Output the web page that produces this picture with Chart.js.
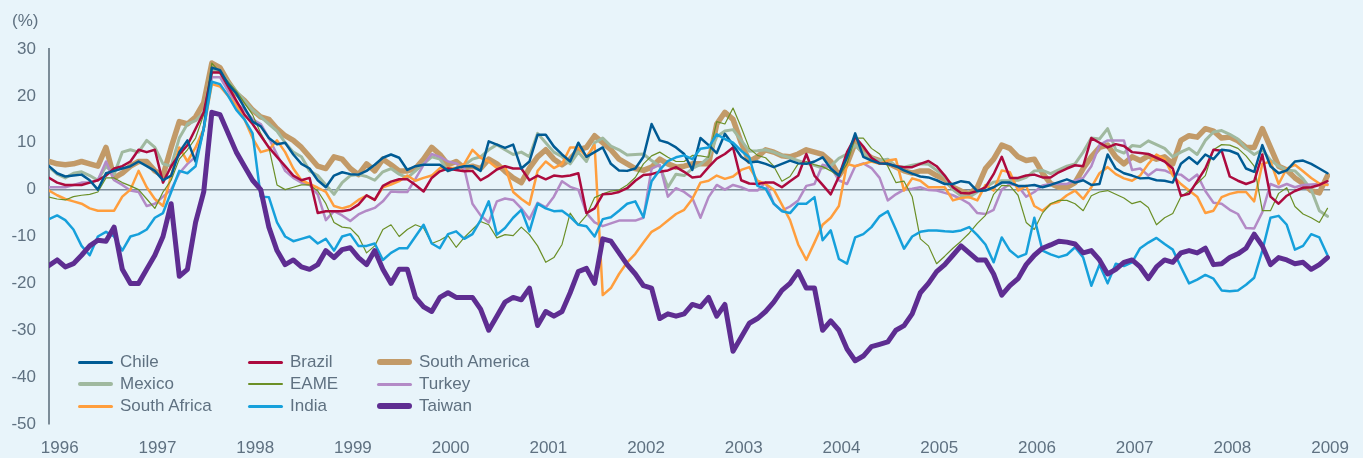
<!DOCTYPE html>
<html>
<head>
<meta charset="utf-8">
<title>Relative performance 1996-2009</title>
<script src="https://cdn.jsdelivr.net/npm/chart.js@4.4.1/dist/chart.umd.min.js"></script>
<style>
  html, body { margin: 0; padding: 0; background: #e8f4fa; }
  #wrap { position: relative; width: 1363px; height: 458px; font-family: 'Liberation Sans', Arial, sans-serif; color: #5f7181; }
  #unit { position: absolute; left: 12px; top: 11px; font-size: 17px; }
  #legend { position: absolute; left: 78px; top: 351px; display: grid; grid-template-columns: 170px 129px 180px; }
  .item { display: flex; align-items: center; height: 22px; font-size: 17px; white-space: nowrap; }
  .swatch { width: 35px; margin-right: 7px; border-radius: 3px; }
</style>
</head>
<body>
<div id="wrap">
  <canvas id="chart" width="1363" height="458"></canvas>
  <div id="unit">(%)</div>
  <div id="legend"></div>
</div>
<script>
// ── Monthly points, late 1995 to end 2008 ──
const START = 1995.89;
const YEARS = [1996, 1997, 1998, 1999, 2000, 2001, 2002, 2003, 2004, 2005, 2006, 2007, 2008, 2009];
const Y_TICKS = [-50, -40, -30, -20, -10, 0, 10, 20, 30];

const CHILE = [
  5, 3.5, 2.8, 3, 3.2, 2, 0, 3.5, 4, 4.5, 5, 6, 5, 4, 2, 3, 8, 10.5, 6, 13, 26, 25.5, 22.5, 20.5, 17.5, 14.5, 13.5, 11, 9.7, 10, 7.5, 5.5, 4.5,
  2, 0.5, 3, 3.7, 3.3, 3.2, 4, 5.3, 6.8, 7.5, 6.8, 4.2, 5, 5.3, 5.3, 5.3, 4, 4.6, 5, 5, 4, 10.3, 9.6, 8.9, 9.6, 4.5, 6, 11.7, 11.7, 9.2, 7.5, 6,
  10, 7, 8, 9, 5.5, 4.1, 4, 4.5, 7, 14, 10.5, 10, 9, 7.6, 4.2, 11, 9.5, 7.8, 11.9, 9.5, 7, 5.8, 6, 5.5, 4.8, 5.5, 6.2, 5.6, 5.5, 6, 6.9, 4.5,
  3, 6.9, 12, 7, 6.2, 5.6, 5.5, 5, 4.1, 3.4, 2.8, 2.6, 2, 1.2, 1.2, 1.8, 1.5, -0.3, -0.2, 0.5, 1.5, 1.5, 0.8, 0.8, 1, 0.5, 1, 1.6, 2.2, 1.5, 2,
  1, 1.2, 7.5, 4.5, 3.5, 3, 2.4, 2.5, 2, 1.9, 1.5, 5.5, 6.9, 5.5, 7.5, 6.5, 8.5, 8.3, 7.6, 4.5, 3.8, 9.5, 5, 3.5, 4.1, 6, 6.2, 5.5, 4.5, 3.5
];
const BRAZIL = [
  2.5, 1.5, 1, 1, 1, 1.5, 2, 3, 4.5, 5, 6, 8.5, 8, 8.5, 1.5, 5, 7.5, 9.5, 13, 16.5, 25, 25, 22, 19, 16, 14, 11.5, 9, 7, 5, 3, 2, 2.5,
  -5, -4.6, -4.6, -4.6, -4.3, -3.2, -1.2, -2.2, 0.8, 1.7, 2.2, 2.2, 1, -0.4, 2.5, 3.9, 4.5, 4.2, 3.9, 4, 2, 3, 4.3, 5, 4.5, 4.5, 2, 3, 2.2, 3, 2.8, 3,
  3.5, -5, -4, -1, -0.9, -0.5, 0.3, 1.9, 3.1, 3.3, 3.8, 4.1, 4.8, 3.8, 2.6, 2.8, 4.8, 6.6, 7.6, 9, 2, 1.3, 1.2, 1.5, 1.5, 0.5, 1.8, 3, 7.6, 3, 1, -1,
  2.8, 8, 11.2, 9.2, 6.8, 5.6, 5.5, 5, 4.8, 4.8, 5.5, 6.1, 5, 3, 0.5, -0.7, -0.8, -0.3, 0.5, 3.3, 7, 2.5, 2.5, 3, 3.2, 2.6, 2.6, 3.7, 4.5, 5.2, 5,
  11, 10, 9, 9.7, 9.3, 8, 7.8, 7.6, 6.8, 6, 4.5, -1.3, -0.9, 1.8, 4.5, 8.5, 8.3, 2.8, 1.9, 1.2, 1.8, 7.5, -1.5, -3, -1.3, -0.3, 0.4, 0.5, 1, 1.8
];
const SOUTH_AMERICA = [
  6, 5.5, 5.3, 5.5, 6, 5.5, 5, 9, 2.5, 3.5, 5, 6, 6, 4, 3, 9, 14.5, 14, 15.5, 18.5, 27, 26, 23, 20.5, 19, 17, 15.5, 15, 13, 11.5, 10.5, 9, 7,
  5, 4.5, 7, 6.5, 4.5, 3.2, 5.5, 4, 6.5, 5.3, 4, 4, 4.5, 6.5, 9, 7.5, 5.3, 6, 4.6, 5, 4.5, 6.5, 5.5, 3.9, 2.5, 1.5, 4.6, 7, 8.5, 6.5, 5.3, 6.5,
  8.5, 9, 11.5, 10, 8.5, 6.5, 5.5, 4.5, 4.1, 4.8, 6.5, 5.5, 4.8, 5, 5.5, 5.5, 5.5, 14, 16.5, 15, 10, 6, 7, 8.5, 8, 7.2, 7, 7.6, 8.5, 8, 7.5, 6,
  3, 5.5, 10, 8, 6.8, 6.2, 5.7, 4.8, 4, 3.5, 4, 4, 3, 2.2, 0.5, -0.3, -0.9, 0.5, 4.5, 6.5, 9.5, 8.8, 7, 6.2, 6.5, 3.5, 1.3, 0.5, 0.5, 1.5, 4.5,
  7, 9, 9.5, 7, 5.5, 7, 6.2, 7.2, 6.5, 7, 5.5, 10.5, 11.5, 11.2, 13, 12.5, 11, 11.2, 10.4, 9, 9, 13, 9, 5, 4.2, 2.5, 1.3, -0.2, -0.7, 3
];
const MEXICO = [
  4.8, 3.3, 2.5, 3.5, 3.8, 3, 2, 5, 3.3, 8, 8.5, 8, 10.5, 9, 5.5, 5, 11, 14, 14.7, 16.5, 25.5, 25, 23, 21, 19, 17, 15.5, 14, 12.5, 10, 8, 7, 4,
  3, 1, -1, 1.5, 3, 3.2, 2.8, 2, 3.8, 4.5, 3.3, 2.5, 4, 5.5, 7, 6.5, 4, 4.6, 5.2, 6.5, 7, 8.5, 9.6, 8.5, 7.5, 8, 7, 12, 10, 8, 7, 5.5,
  8, 6, 10, 11, 9.3, 8.5, 7.4, 7.5, 7.6, 6.2, 5, 0.5, 3.3, 3, 4.5, 5.4, 6.9, 11.3, 12.5, 12.8, 10.5, 8.2, 8.3, 8.5, 8, 7.3, 6.8, 6.2, 5.6, 5.2, 4.6, 5,
  6.7, 7.6, 9.5, 7.8, 6.8, 6.2, 6.5, 5, 4.8, 5.2, 5.5, 5.4, 4.1, 2.8, 0, -1.3, -1.6, -0.5, 0.5, 1.6, 1.9, 1.9, 2, 2.6, 4, 4.1, 3.4, 4.2, 5, 5.5, 8,
  11, 10.8, 13, 8.5, 7.8, 9.4, 9.2, 10.4, 9.6, 8.8, 7, 8, 8.8, 7.5, 10.5, 12.3, 12.6, 11.8, 10.8, 8.8, 7.5, 8.5, 6.3, 5, 4.2, 4, 2.3, 0, -4.5, -5.7
];
const EAME = [
  -1.6, -2, -2.2, -1.5, -1.2, -1, -0.5, 2.5, 2.5, 1.5, 0.8, 0, -2, -4, -0.5, 2, 6.5, 8.5, 11, 16, 27, 25, 23, 21, 18.5, 16, 12, 9, 1, 0, 0.5, 1, 1,
  -0.3, -3, -7, -8, -8.2, -10, -13.5, -12, -8.5, -7.5, -10, -8.5, -7.5, -8.2, -11.5, -10.8, -9.8, -12.3, -10.2, -8.5, -6.8, -7.5, -10.3, -9.6, -9.8, -8, -9.6, -12, -15.5, -14.5, -11.7, -5,
  -7.5, -5.5, -1.7, -0.9, -0.3, -0.1, 1, 2.6, 5.5, 7.2, 8, 6.9, 6, 6, 7.3, 7.2, 6.9, 14.5, 14, 17.4, 13.3, 8.8, 7.3, 6.8, 5, 1.8, 2.8, 5.5, 6, 5.3, 4.9, 4,
  2.8, 5.5, 11, 11, 8.8, 7.6, 5, 1.5, 1.8, -1.5, -10.5, -12, -15.8, -14.2, -12.5, -11, -9.3, -7.2, -5.5, -1, 0.9, 0.8, -1.2, -7, -8.5, -5, -3, -2.3, -2.3, -3, -4.5,
  -1.3, -0.5, -0.2, -1, -1.8, -3, -2.5, -3.8, -7.5, -6, -5.1, -1.5, -0.3, 1.3, 3, 8.5, 9.6, 9.5, 8.8, 7.2, 5, -4.5, -4.5, -0.8, 0.4, -3.6, -5.2, -6, -7, -4
];
const TURKEY = [
  0.5, 0.5, 0.5, 1, 1.5, 1.5, 2, 6, 2, 1, -0.2, -0.5, -3.5, -3, -1.5, 0, 3.5, 5.5, 7, 13, 24, 24, 21, 18.5, 17, 15, 14, 11, 7.5, 4, 2.5, 1.5, 1,
  -1, -6.5, -4.6, -5.5, -6.7, -5.3, -4.5, -3.9, -2.5, -0.4, -0.5, -0.5, 2.3, 5.3, 7.6, 7, 6, 5.6, 4.5, -3, -5.5, -7, -2.5, -1.9, -2.2, -4, -6.3, -2.8, -3.8, -1.5, 1.8, 0.6,
  0, -5, -7, -7.8, -7.2, -6.6, -6.6, -6.6, -6, 4.5, 5.3, -1.5, 0.3, -0.5, -1.8, -6, -1.6, 1, 0, 1, 0.5, -0.2, -0.2, 1.5, -3, -4.5, -3.6, -2.3, 0.8, 1.2, 5.3, 4.8,
  2, 1.2, 5, 5.6, 4.6, 2.5, -2.3, -1, 0, 0.2, 0.5, -0.1, -0.2, -0.7, -1.2, -2, -3, -5, -5.2, -4.3, 0, 1.2, 0.8, -1.5, -0.5, 0.9, 1.2, 1.2, 1.2, 1.9, 2.5,
  5, 9.5, 10.5, 10.5, 10.5, 4.2, 4.5, 3, 4.3, 4.1, 3.3, 3.2, 1.9, 3.2, -0.3, -2.8, -3, -4.3, -5.2, -8.2, -8.3, -4.8, 1.2, 0.5, 1.2, 0.5, 1, 1.1, 1.2, 1.2
];
const SOUTH_AFRICA = [
  -0.2, -1.2, -2, -2.5, -3, -4, -4.5, -4.5, -4.5, -1.5, 0, 4, 0.5, -2, -3.5, 3, 9, 6, 9, 13, 22.5, 22, 20, 18, 15, 11, 8, 8.5, 10.5, 8, 4.5, 2, 1.2,
  0.4, -0.5, -3.5, -4, -3.5, -2.2, -1.3, -2.2, 0.5, 1.1, 1.8, 3, 1.9, 2.5, 3, 4.6, 4.6, 4.6, 5.5, 8.5, 6.8, 6, 4.6, 5, -0.5, -2, -3.2, 4, 6, 4.6, 5.5, 9,
  9, 7, 9.5, -22.5, -21, -18, -15.5, -13.7, -11.3, -9, -8, -6.6, -5.2, -4.3, -2, 1.5, 1.9, 3, 2.3, 2.8, 4.2, 4.8, 1.9, 1.2, 0, -3.2, -6.5, -11.7, -15, -11.3, -7.5, -6,
  -3.5, 5.5, 5, 5.5, 6, 5.5, 6.2, 6.5, -0.2, 2.4, 1.9, 0.5, 0.5, 0.5, -2.3, -1.8, -1.6, -2.3, 1, -0.2, 4.1, 3.7, -0.2, 0.8, -3.5, -4.5, -3.1, -2.6, -1.2, -0.2, -2,
  0.5, 3.5, 4.8, 3.3, 2.4, 1.9, 3, 5.5, 7.5, 6.5, 3, 1.2, -0.2, -1.5, -5, -4.5, -1.6, -0.9, -0.5, -0.5, -2.5, 5.5, 6, 1.2, 4.5, 5.3, 3.9, 2.5, 1.3, 1
];
const INDIA = [
  -6.3, -5.5, -6.5, -8.5, -12, -14, -10, -9, -10, -13, -10, -9.5, -8.5, -6, -5, -0.5, 4, 3.5, 5, 13, 23, 22.5, 20, 17, 15, 12, -1.5, -1.6, -7, -10, -11, -10.5, -10,
  -11.5, -10.5, -13, -10, -9.5, -12, -12, -11.5, -15, -13.5, -12.5, -12.5, -10, -7.5, -11.5, -12.5, -9.5, -8.9, -10.5, -9.5, -6.5, -2.5, -9.6, -8.2, -6, -4.3, -8.9, -3, -4, -4.6, -4.5, -5.8,
  -7.5, -7.8, -10, -6.3, -5.9, -4.5, -3, -2.5, -5.9, 1.8, 4.2, 6.1, 6.9, 7.3, 6.5, 8.7, 9, 11.8, 10.8, 10, 8.3, 6.9, 0.8, 0.2, -3, -4.6, -5, -3, -3, -1.6, -10.8, -8.7,
  -14.8, -15.8, -10.2, -9.5, -8, -5.7, -4.6, -8.5, -12.6, -10, -9, -8.7, -8.7, -8.9, -9, -8.7, -8, -9.7, -11.7, -15.5, -10.2, -13, -14.4, -13.7, -6, -13, -13.8, -14.4, -13.9, -12.3, -14.5,
  -20.5, -16, -20, -15.8, -16.3, -15.5, -12.5, -11.3, -10.3, -11.6, -12.8, -16.5, -20, -19.2, -18.2, -19, -21.5, -21.7, -21.5, -20.3, -18.8, -13, -6, -5.6, -7.5, -12.8, -12, -9.5, -10.2, -14
];
const TAIWAN = [
  -16.2, -15, -16.5, -15.8, -14, -12, -10.8, -11, -8, -17, -20, -20, -17, -14, -10, -3, -18.5, -17, -7, -0.5, 16.5, 16, 12, 8, 5, 2, 0, -8, -13, -16, -15, -16.5, -17,
  -16, -13, -14.5, -12.8, -12.4, -14.5, -16, -13, -17, -20, -17, -17, -23, -25, -26, -23, -22, -23, -23, -23, -25.5, -30, -27, -24, -23, -23.5, -21, -29, -26, -27, -26, -22,
  -17.5, -16.8, -20, -10.5, -11, -13.5, -16, -18, -20.5, -21, -27.5, -26.5, -27, -26.5, -24.5, -25, -23, -27, -24.5, -34.5, -31.5, -28.5, -27.5, -26, -24, -21.5, -20, -17.5, -21, -21, -30, -28,
  -30, -34, -36.5, -35.5, -33.5, -33, -32.5, -30, -29, -26.5, -22, -20, -17.5, -16, -14, -12, -13.5, -15, -15, -18, -22.5, -20.5, -19, -16, -14, -12.5, -11.8, -11, -11.2, -11.6, -13.5,
  -13, -15, -18, -17, -15.5, -15, -16.5, -19, -16.5, -15, -15.5, -13.5, -13, -13.5, -12.5, -16, -15.8, -14.5, -13.7, -12.5, -9.5, -12, -16, -14.5, -15, -15.8, -15.5, -17, -16, -14.5
];

const months = CHILE.map((_, i) => START + i / 12);
const toPoints = arr => arr.map((v, i) => ({ x: months[i], y: v }));

const TEXT = '#5f7181';
const AXIS = '#7c8c98';
const FONT = { family: "'Liberation Sans', Arial, sans-serif", size: 17 };

// legend order (row by row), order = z position (0 on top)
const SERIES = [
  { label: 'Chile',         data: CHILE,         color: '#005b94', width: 2.5, order: 2 },
  { label: 'Brazil',        data: BRAZIL,        color: '#ac0a3e', width: 2.5, order: 3 },
  { label: 'South America', data: SOUTH_AMERICA, color: '#c29a68', width: 5.5, order: 9 },
  { label: 'Mexico',        data: MEXICO,        color: '#a0b99f', width: 3,   order: 8 },
  { label: 'EAME',          data: EAME,          color: '#6b8f26', width: 1.2, order: 4 },
  { label: 'Turkey',        data: TURKEY,        color: '#b38ac6', width: 2.5, order: 6 },
  { label: 'South Africa',  data: SOUTH_AFRICA,  color: '#ff9e3d', width: 2.5, order: 5 },
  { label: 'India',         data: INDIA,         color: '#16a0db', width: 2.5, order: 1 },
  { label: 'Taiwan',        data: TAIWAN,        color: '#5e2d91', width: 5,   order: 0 }
];

const chart = new Chart(document.getElementById('chart'), {
  type: 'line',
  data: {
    datasets: SERIES.map(s => ({
      label: s.label,
      data: toPoints(s.data),
      borderColor: s.color,
      backgroundColor: s.color,
      borderWidth: s.width,
      order: s.order,
      pointRadius: 0,
      tension: 0,
      borderJoinStyle: 'round',
      borderCapStyle: 'round',
      fill: false
    }))
  },
  options: {
    responsive: false,
    animation: false,
    layout: { padding: { top: 49, right: 24, bottom: 0, left: 0 } },
    plugins: { legend: { display: false }, tooltip: { enabled: false } },
    scales: {
      x: {
        type: 'linear',
        min: START,
        max: 2009,
        afterBuildTicks: axis => { axis.ticks = YEARS.map(v => ({ value: v })); },
        afterFit: scale => { scale.height = 34; },
        grid: { display: false, drawTicks: false },
        border: { display: false },
        ticks: { color: TEXT, padding: 14, maxRotation: 0, autoSkip: false, font: FONT, callback: v => String(v) }
      },
      y: {
        min: -50,
        max: 30,
        afterBuildTicks: axis => { axis.ticks = Y_TICKS.map(v => ({ value: v })); },
        afterFit: scale => { scale.width = 49; },
        grid: {
          drawTicks: false,
          lineWidth: 1.5,
          color: ctx => (ctx.tick && ctx.tick.value === 0 ? AXIS : 'transparent')
        },
        border: { display: true, color: AXIS, width: 2 },
        ticks: { color: TEXT, padding: 13, font: FONT }
      }
    }
  }
});

// ── HTML legend, 3 columns ──
const legendEl = document.getElementById('legend');
SERIES.forEach(s => {
  const item = document.createElement('div');
  item.className = 'item';
  const sw = document.createElement('span');
  sw.className = 'swatch';
  sw.style.height = Math.max(2, Math.round(s.width + 0.5)) + 'px';
  sw.style.background = s.color;
  item.appendChild(sw);
  item.appendChild(document.createTextNode(s.label));
  legendEl.appendChild(item);
});
</script>
</body>
</html>
